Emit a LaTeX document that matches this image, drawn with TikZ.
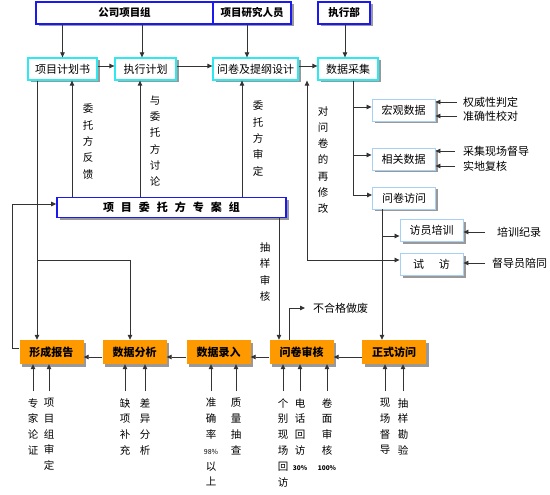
\documentclass[tikz,border=0pt]{standalone}
\usepackage{fontspec}
\setmainfont{Noto Sans CJK SC}
\usetikzlibrary{arrows.meta,shadows,calc}
\definecolor{orng}{HTML}{FF9900}
\definecolor{topblue}{HTML}{1A1AF0}
\definecolor{cyanb}{HTML}{30E8F0}
\definecolor{lblue}{HTML}{A8D0F5}
\definecolor{ln}{HTML}{333333}
\begin{document}
\begin{tikzpicture}[x=1pt,y=-1pt,
  shd/.style={drop shadow={shadow xshift=2.5pt,shadow yshift=-2.5pt,fill=black!40,opacity=1}},
  line/.style={draw=ln,line width=0.8pt},
  arr/.style={line,-{Triangle[length=5pt,width=4.5pt]}},
  arrb/.style={line,{Triangle[length=5pt,width=4.5pt]}-{Triangle[length=5pt,width=4.5pt]}},
  topbox/.style={shd,draw=topblue,line width=1.6pt,fill=white,minimum height=22pt,inner sep=0pt,font=\bfseries\fontsize{10.5}{12}\selectfont},
  cbox/.style={shd,draw=cyanb,line width=1.3pt,fill=white,minimum height=22pt,inner sep=0pt,font=\fontsize{11}{12}\selectfont},
  sbox/.style={shd,draw=lblue,line width=0.9pt,fill=white,minimum width=63pt,minimum height=22pt,inner sep=0pt,font=\fontsize{11}{12}\selectfont},
  obox/.style={shd,fill=orng,draw=none,minimum width=64pt,minimum height=24pt,inner sep=0pt,font=\bfseries\fontsize{11}{12}\selectfont},
  vlab/.style={align=center,inner sep=0pt,font=\fontsize{10.5}{16.3}\selectfont},
  blab/.style={align=center,inner sep=0pt,anchor=north,font=\fontsize{10.5}{15.8}\selectfont},
  rlab/.style={anchor=west,inner sep=0pt,font=\fontsize{11}{12}\selectfont}]
\fill[white] (0,0) rectangle (550,495);
\useasboundingbox (0,0) rectangle (550,495);

% top row
\node[topbox,minimum width=177pt] (gs) at (124.5,13) {公司项目组};
\node[topbox,minimum width=78pt] (yj) at (252,13) {项目研究人员};
\node[topbox,minimum width=52pt] (zx) at (344,13) {执行部};

% second row
\node[cbox,minimum width=69pt] (jhs) at (62.5,69) {项目计划书};
\node[cbox,minimum width=61pt] (zxjh) at (145.5,69) {执行计划};
\node[cbox,minimum width=85pt] (wj) at (255.5,69) {问卷及提纲设计};
\node[cbox,minimum width=60pt] (sj) at (348,69) {数据采集};

% client group
\node[topbox,minimum width=229pt,minimum height=20pt,font=\bfseries\fontsize{11}{12}\selectfont] (zaz) at (171.5,207.5)
  {项\hspace{7pt}目\hspace{7pt}委\hspace{7pt}托\hspace{7pt}方\hspace{7pt}专\hspace{7pt}案\hspace{7pt}组};

% sub boxes
\node[sbox] (hg) at (403.5,110) {宏观数据};
\node[sbox] (xg) at (403.5,159) {相关数据};
\node[sbox] (wjfw) at (404,198) {问卷访问};
\node[sbox] (fypx) at (431.5,230.5) {访员培训};
\node[sbox] (sf) at (431.5,264) {试\hspace{15pt}访};

% orange row
\node[obox] (xc) at (51.5,352) {形成报告};
\node[obox] (fx) at (134.5,352) {数据分析};
\node[obox] (lr) at (218.5,352) {数据录入};
\node[obox] (sh) at (301.5,352) {问卷审核};
\node[obox] (zs) at (394,352) {正式访问};

% top arrows
\draw[arr] (jhs.north |- gs.south) -- (jhs.north);
\draw[arr] ([xshift=-3.5pt]zxjh.north |- gs.south) -- ([xshift=-3.5pt]zxjh.north);
\draw[arr] ([xshift=-8.5pt]wj.north |- yj.south) -- ([xshift=-8.5pt]wj.north);
\draw[arr] ([xshift=-3pt]sj.north |- zx.south) -- ([xshift=-3pt]sj.north);

% second row arrows
\draw[arr] ([yshift=3pt]jhs.east) -- ([yshift=3pt]zxjh.west);
\draw[arr] ([yshift=3pt]zxjh.east) -- ([yshift=3pt]wj.west);
\draw[arr] ([yshift=3pt]wj.east) -- ([yshift=3pt]sj.west);

% from client group up
\draw[arr] ([xshift=9.5pt]jhs.south |- zaz.north) -- ([xshift=9.5pt]jhs.south);
\draw[arr] ([xshift=-5.5pt]zxjh.south |- zaz.north) -- ([xshift=-5.5pt]zxjh.south);
\draw[arr] ([xshift=-13.5pt]wj.south |- zaz.north) -- ([xshift=-13.5pt]wj.south);

\node[vlab] (t1) at (88,141.5) {委\\托\\方\\反\\馈};
\node[vlab] (t2) at (155,141) {与\\委\\托\\方\\讨\\论};
\node[vlab] (t3) at (258,138.5) {委\\托\\方\\审\\定};
\node[vlab] (t4) at (323,160) {对\\问\\卷\\的\\再\\修\\改};
\node[vlab] (t5) at (265,272) {抽\\样\\审\\核};

% project plan down to report, branch to analysis
\coordinate (jx) at ([xshift=-25.5pt]jhs.south);
\draw[arr] (jx) -- (jx |- xc.north);
\coordinate (br) at (37,260);
\draw[arr] (br) -| ([xshift=-4.5pt]fx.north);

% report back to client group
\draw[arr] ([yshift=4pt]xc.west) -- ++(-7,0) |- ([yshift=3.5pt]zaz.west);

% client group down to review
\draw[arr] ([xshift=-22.5pt]sh.north |- zaz.south) -- ([xshift=-22.5pt]sh.north);

% data collection branches
\coordinate (sjx) at ([xshift=5pt]sj.south);
\coordinate (hgin) at ([yshift=3pt]hg.west);
\coordinate (xgin) at ([yshift=4pt]xg.west);
\coordinate (wjin) at ([yshift=3pt]wjfw.west);
\draw[arr] (sjx) |- (wjin);
\draw[arr] (sjx |- hgin) -- (hgin);
\draw[arr] (sjx |- xgin) -- (xgin);

% questionnaire interview branches
\coordinate (wjx) at ([xshift=-22pt]wjfw.south);
\draw[arr] (wjx) -- (wjx |- zs.north);
\coordinate (fyin) at ([yshift=-5.5pt]fypx.west);
\draw[arr] (wjx |- fyin) -- (fyin);
\coordinate (sfin) at ([yshift=4pt]sf.west);
\draw[arrb] ([xshift=51.5pt]wj.south) |- (sfin);

% right labels
\node[rlab] (l1) at (463,102) {权威性判定};
\node[rlab] (l2) at (463,116) {准确性校对};
\node[rlab] (l3) at (463,151) {采集现场督导};
\node[rlab] (l4) at (463,166) {实地复核};
\node[rlab] (l5) at (497,232) {培训纪录};
\node[rlab] (l6) at (492,263) {督导员陪同};
\coordinate (a1) at ([xshift=-6pt]l1.west);
\coordinate (a2) at ([xshift=-6pt]l2.west);
\coordinate (a3) at ([xshift=-8pt]l3.west);
\coordinate (a4) at ([xshift=-8pt]l4.west);
\coordinate (a5) at ([xshift=-12pt]l5.west);
\coordinate (a6) at ([xshift=-7pt]l6.west);
\draw[arr] (a1) -- (a1 -| hg.east);
\draw[arr] (a2) -- (a2 -| hg.east);
\draw[arr] (a3) -- (a3 -| xg.east);
\draw[arr] (a4) -- (a4 -| xg.east);
\draw[arr] (a5) -- (a5 -| fypx.east);
\draw[arr] (a6) -- (a6 -| sf.east);

% orange chain
\draw[arr] ([yshift=-5pt]zs.west) -- ([yshift=-5pt]sh.east);
\draw[arr] ([yshift=-5pt]sh.west) -- ([yshift=-5pt]lr.east);
\draw[arr] ([yshift=-5pt]lr.west) -- ([yshift=-5pt]fx.east);
\draw[arr] ([yshift=-5pt]fx.west) -- ([yshift=-5pt]xc.east);

% reject
\node[rlab] (bh) at (313,308) {不合格做废};
\draw[arr] ([xshift=-12.5pt]sh.north) |- ([xshift=-8pt]bh.west);

% bottom labels
\node[blab] (b1) at (33,398) {专\\家\\论\\证};
\node[blab] (b2) at (49,398) {项\\目\\组\\审\\定};
\node[blab] (b3) at (125,398) {缺\\项\\补\\充};
\node[blab] (b4) at (145,398) {差\\异\\分\\析};
\node[blab] (b5) at (211,398) {准\\确\\率\\{\fontsize{7}{8}\selectfont 98\%}\\以\\上};
\node[blab] (b6) at (236,398) {质\\量\\抽\\查};
\node[blab] (b7) at (283,398) {个\\别\\现\\场\\回\\访};
\node[blab] (b8) at (300,398) {电\\话\\回\\访\\{\fontsize{6.5}{8}\selectfont\bfseries 30\%}};
\node[blab] (b9) at (327,398) {卷\\面\\审\\核\\{\fontsize{6.5}{8}\selectfont\bfseries 100\%}};
\node[blab] (b10) at (385,398) {现\\场\\督\\导};
\node[blab] (b11) at (403,398) {抽\\样\\勘\\验};

\foreach \b/\t in {b1/xc,b2/xc,b3/fx,b4/fx,b5/lr,b6/lr,b7/sh,b8/sh,b9/sh,b10/zs,b11/zs}
  \draw[arr] ([yshift=7pt]\b.north) -- (\b.north |- \t.south);
\end{tikzpicture}
\end{document}
